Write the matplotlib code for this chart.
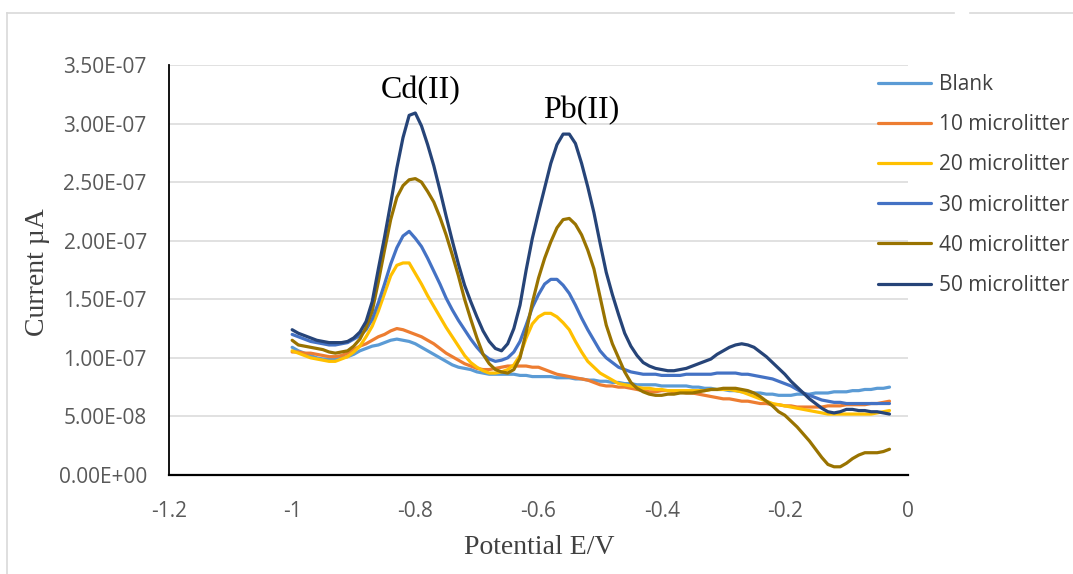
import numpy as np
import matplotlib
matplotlib.use("Agg")
import matplotlib.pyplot as plt
from matplotlib.lines import Line2D

plt.rcParams['font.family'] = ['Open Sans', 'DejaVu Sans']

# potential grid (V), -1.00 .. -0.03 in 0.01 steps
potential = np.round(np.arange(-1.00, -0.025, 0.01), 2)

# currents in units of 1e-7 A
blank = [1.09, 1.06, 1.04, 1.02, 1.00, 0.99, 0.99, 0.99, 1.00, 1.01,
         1.03, 1.06, 1.08, 1.10, 1.11, 1.13, 1.15, 1.16, 1.15, 1.14,
         1.12, 1.09, 1.06, 1.03, 1.00, 0.97, 0.94, 0.92, 0.91, 0.90,
         0.88, 0.87, 0.86, 0.86, 0.86, 0.86, 0.86, 0.85, 0.85, 0.84,
         0.84, 0.84, 0.84, 0.83, 0.83, 0.83, 0.82, 0.82, 0.81, 0.81,
         0.80, 0.80, 0.79, 0.79, 0.78, 0.78, 0.77, 0.77, 0.77, 0.77,
         0.76, 0.76, 0.76, 0.76, 0.76, 0.75, 0.75, 0.74, 0.74, 0.73,
         0.73, 0.72, 0.72, 0.71, 0.71, 0.70, 0.70, 0.69, 0.69, 0.68,
         0.68, 0.68, 0.69, 0.69, 0.69, 0.70, 0.70, 0.70, 0.71, 0.71,
         0.71, 0.72, 0.72, 0.73, 0.73, 0.74, 0.74, 0.75]
ul10 = [1.05, 1.05, 1.04, 1.04, 1.03, 1.02, 1.01, 1.01, 1.02, 1.04,
        1.07, 1.10, 1.12, 1.15, 1.18, 1.20, 1.23, 1.25, 1.24, 1.22,
        1.20, 1.18, 1.15, 1.12, 1.08, 1.04, 1.01, 0.98, 0.95, 0.93,
        0.91, 0.90, 0.90, 0.91, 0.92, 0.93, 0.93, 0.93, 0.93, 0.92,
        0.92, 0.90, 0.88, 0.86, 0.85, 0.84, 0.83, 0.82, 0.81, 0.79,
        0.77, 0.76, 0.76, 0.75, 0.75, 0.74, 0.73, 0.72, 0.71, 0.71,
        0.72, 0.72, 0.71, 0.71, 0.70, 0.70, 0.69, 0.68, 0.67, 0.66,
        0.65, 0.65, 0.64, 0.63, 0.63, 0.62, 0.61, 0.61, 0.60, 0.60,
        0.59, 0.59, 0.58, 0.58, 0.58, 0.58, 0.58, 0.59, 0.59, 0.59,
        0.60, 0.60, 0.60, 0.60, 0.61, 0.61, 0.62, 0.63]
ul20 = [1.06, 1.04, 1.02, 1.00, 0.99, 0.98, 0.97, 0.97, 0.99, 1.01,
        1.05, 1.10, 1.18, 1.27, 1.40, 1.55, 1.70, 1.79, 1.81, 1.81,
        1.72, 1.63, 1.53, 1.44, 1.35, 1.26, 1.18, 1.10, 1.02, 0.96,
        0.92, 0.89, 0.87, 0.87, 0.88, 0.90, 0.94, 1.02, 1.17, 1.29,
        1.35, 1.38, 1.38, 1.35, 1.30, 1.24, 1.14, 1.05, 0.97, 0.92,
        0.87, 0.84, 0.81, 0.78, 0.77, 0.76, 0.75, 0.74, 0.74, 0.73,
        0.73, 0.72, 0.72, 0.72, 0.72, 0.72, 0.72, 0.72, 0.73, 0.73,
        0.73, 0.73, 0.72, 0.71, 0.69, 0.67, 0.65, 0.63, 0.61, 0.60,
        0.59, 0.58, 0.57, 0.56, 0.55, 0.54, 0.53, 0.52, 0.52, 0.52,
        0.52, 0.52, 0.52, 0.52, 0.52, 0.53, 0.54, 0.55]
ul30 = [1.20, 1.18, 1.16, 1.14, 1.13, 1.12, 1.11, 1.11, 1.12, 1.13,
        1.16, 1.19, 1.24, 1.33, 1.47, 1.63, 1.80, 1.94, 2.04, 2.08,
        2.02, 1.95, 1.85, 1.74, 1.63, 1.51, 1.41, 1.32, 1.24, 1.16,
        1.09, 1.03, 0.99, 0.97, 0.98, 1.00, 1.05, 1.14, 1.28, 1.43,
        1.54, 1.63, 1.67, 1.67, 1.62, 1.55, 1.45, 1.34, 1.24, 1.15,
        1.06, 1.00, 0.96, 0.92, 0.90, 0.88, 0.87, 0.86, 0.86, 0.86,
        0.85, 0.85, 0.85, 0.85, 0.86, 0.86, 0.86, 0.86, 0.86, 0.87,
        0.87, 0.87, 0.87, 0.86, 0.86, 0.85, 0.84, 0.83, 0.82, 0.80,
        0.78, 0.76, 0.73, 0.70, 0.68, 0.66, 0.64, 0.63, 0.62, 0.62,
        0.61, 0.61, 0.61, 0.61, 0.61, 0.61, 0.61, 0.61]
ul40 = [1.15, 1.11, 1.10, 1.09, 1.08, 1.07, 1.05, 1.04, 1.05, 1.06,
        1.10, 1.16, 1.26, 1.40, 1.65, 1.92, 2.18, 2.37, 2.47, 2.52,
        2.53, 2.50, 2.42, 2.33, 2.20, 2.05, 1.88, 1.70, 1.50, 1.33,
        1.17, 1.03, 0.95, 0.90, 0.88, 0.87, 0.90, 1.00, 1.22, 1.47,
        1.68, 1.85, 1.99, 2.11, 2.18, 2.19, 2.14, 2.05, 1.92, 1.76,
        1.52, 1.28, 1.12, 1.00, 0.88, 0.79, 0.74, 0.71, 0.69, 0.68,
        0.68, 0.69, 0.69, 0.70, 0.70, 0.70, 0.71, 0.72, 0.73, 0.73,
        0.74, 0.74, 0.74, 0.73, 0.72, 0.70, 0.67, 0.63, 0.59, 0.54,
        0.51, 0.46, 0.41, 0.35, 0.29, 0.22, 0.15, 0.09, 0.07, 0.07,
        0.10, 0.14, 0.17, 0.19, 0.19, 0.19, 0.20, 0.22]
ul50 = [1.24, 1.21, 1.19, 1.17, 1.15, 1.14, 1.13, 1.13, 1.13, 1.14,
        1.17, 1.22, 1.31, 1.48, 1.76, 2.03, 2.32, 2.62, 2.88, 3.07,
        3.09, 2.98, 2.82, 2.64, 2.43, 2.21, 2.00, 1.80, 1.62, 1.48,
        1.35, 1.23, 1.14, 1.08, 1.06, 1.12, 1.25, 1.45, 1.75, 2.02,
        2.24, 2.45, 2.66, 2.82, 2.91, 2.91, 2.83, 2.66, 2.46, 2.24,
        1.98, 1.73, 1.54, 1.37, 1.21, 1.10, 1.02, 0.96, 0.93, 0.91,
        0.90, 0.89, 0.89, 0.90, 0.91, 0.93, 0.95, 0.97, 0.99, 1.03,
        1.06, 1.09, 1.11, 1.12, 1.11, 1.09, 1.05, 1.01, 0.96, 0.91,
        0.86, 0.80, 0.75, 0.70, 0.65, 0.61, 0.57, 0.54, 0.53, 0.54,
        0.56, 0.56, 0.55, 0.55, 0.54, 0.54, 0.53, 0.52]

series_names = ['Blank', '10 microlitter', '20 microlitter',
                '30 microlitter', '40 microlitter', '50 microlitter']
series_data = [blank, ul10, ul20, ul30, ul40, ul50]
colors = ['#5B9BD5', '#ED7D31', '#FFC000', '#4472C4', '#997300', '#264478']

xticks = [-1.2, -1.0, -0.8, -0.6, -0.4, -0.2, 0.0]
xtick_labels = ['-1.2', '-1', '-0.8', '-0.6', '-0.4', '-0.2', '0']
yticks = np.arange(0, 3.51e-7, 0.5e-7)

fig = plt.figure(figsize=(10.73, 5.74), dpi=100)
ax = fig.add_axes([0.1575, 0.1725, 0.6887, 0.7143])

for name, vals, c in zip(series_names, series_data, colors):
    ax.plot(potential, np.array(vals) * 1e-7, color=c, lw=2.3, label=name,
            solid_capstyle='round', zorder=3)

ax.set_xlim(-1.2, 0)
ax.set_ylim(0, 3.5e-7)
ax.set_xticks(xticks)
ax.set_xticklabels(xtick_labels)
ax.set_yticks(yticks)
ax.set_yticklabels([f'{v:.2E}' for v in yticks])
ax.tick_params(length=0, labelsize=15, labelcolor='#595959')
ax.tick_params(axis='y', pad=16)
ax.tick_params(axis='x', pad=19)

ax.grid(axis='y', color='#D9D9D9', lw=1.1)
ax.set_axisbelow(True)
for s in ['top', 'right']:
    ax.spines[s].set_visible(False)
ax.spines['left'].set_linewidth(1.3)
ax.spines['bottom'].set_linewidth(1.6)
ax.spines['left'].set_color('#000000')
ax.spines['bottom'].set_color('#000000')

serif = ['Liberation Serif', 'DejaVu Serif']
ax.text(-0.792, 3.28e-7, 'Cd(II)', ha='center', va='center',
        fontsize=23, family=serif, color='#000000')
ax.text(-0.530, 3.11e-7, 'Pb(II)', ha='center', va='center',
        fontsize=23, family=serif, color='#000000')

fig.text(539.5 / 1073, 1 - 547 / 574, 'Potential E/V', ha='center',
         va='center', fontsize=20, family=serif, color='#404040')
fig.text(37 / 1073, 1 - 272 / 574, 'Current µA', ha='center',
         va='center', fontsize=20, family=serif, color='#404040',
         rotation=90)

leg = ax.legend(loc='upper left', bbox_to_anchor=(878 / 1073, 1 - 74 / 574),
                bbox_transform=fig.transFigure, frameon=False, fontsize=15,
                handlelength=2.55, handletextpad=0.38, labelspacing=0.92,
                borderpad=0, borderaxespad=0)
for t in leg.get_texts():
    t.set_color('#404040')

# outer chart border
fig.add_artist(Line2D([7 / 1073, 7 / 1073], [0, 1 - 13 / 574],
                      color='#D9D9D9', lw=1.2))
fig.add_artist(Line2D([7 / 1073, 954 / 1073], [1 - 13 / 574, 1 - 13 / 574],
                      color='#D9D9D9', lw=1.2))
fig.add_artist(Line2D([970 / 1073, 1], [1 - 13 / 574, 1 - 13 / 574],
                      color='#D9D9D9', lw=1.2))

fig.savefig('out.png', dpi=100)
plt.close()
